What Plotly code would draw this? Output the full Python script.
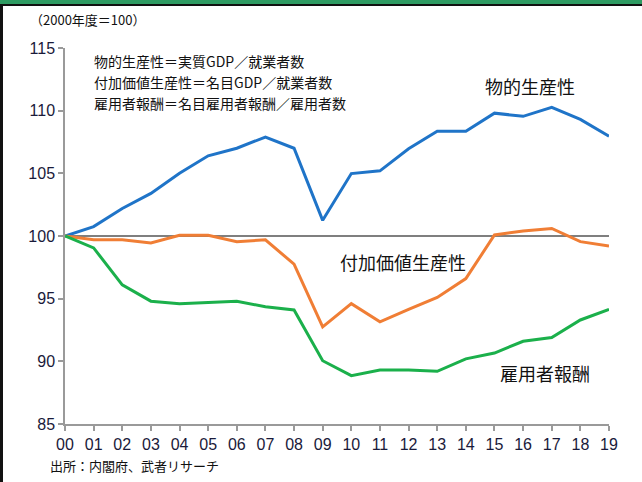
import plotly.graph_objects as go

years = list(range(20))
year_labels = ["00","01","02","03","04","05","06","07","08","09",
               "10","11","12","13","14","15","16","17","18","19"]

physical = [100.0, 100.75, 102.2, 103.4, 105.0, 106.4, 107.0, 107.9, 107.0, 101.25,
            104.98, 105.2, 106.96, 108.36, 108.36, 109.8, 109.55, 110.26, 109.3, 107.96]
value_added = [100.0, 99.7, 99.7, 99.45, 100.05, 100.05, 99.55, 99.7, 97.75, 92.75,
               94.6, 93.15, 94.15, 95.1, 96.6, 100.08, 100.4, 100.6, 99.55, 99.2]
compensation = [100.0, 99.05, 96.1, 94.8, 94.6, 94.7, 94.8, 94.35, 94.1, 90.05,
                88.86, 89.3, 89.3, 89.2, 90.2, 90.66, 91.6, 91.9, 93.3, 94.15]

y_ticks = [85, 90, 95, 100, 105, 110, 115]

W, H = 642, 482
L, R, T, B = 65, 33, 48, 58
pw, ph = W - L - R, H - T - B

def px(x):
    return (x - L) / pw

def py(y):
    return 1 - (y - T) / ph

CJK = "Noto Sans CJK JP"

fig = go.Figure()
fig.add_trace(go.Scatter(x=years, y=physical, mode="lines",
                         line=dict(color="#1F74C8", width=3), name="物的生産性"))
fig.add_trace(go.Scatter(x=years, y=value_added, mode="lines",
                         line=dict(color="#F07E35", width=3), name="付加価値生産性"))
fig.add_trace(go.Scatter(x=years, y=compensation, mode="lines",
                         line=dict(color="#1BB04B", width=3), name="雇用者報酬"))

fig.update_layout(
    width=W, height=H,
    margin=dict(l=L, r=R, t=T, b=B),
    paper_bgcolor="white", plot_bgcolor="white",
    showlegend=False,
    font=dict(family="Liberation Sans, Arial", color="#222"),
)
fig.update_xaxes(range=[0, 19], tickvals=years, ticktext=year_labels,
                 showgrid=False, zeroline=False, showline=True,
                 linecolor="#9A9A9A", linewidth=1.5,
                 ticks="outside", ticklen=5, tickcolor="#9A9A9A", tickwidth=1.5,
                 tickfont=dict(size=16, family="Liberation Sans, Arial", color="#1a1a3a"))
fig.update_yaxes(range=[85, 115], tickvals=y_ticks,
                 showgrid=False, zeroline=False, showline=True,
                 linecolor="#9A9A9A", linewidth=1.5,
                 ticks="outside", ticklen=5, tickcolor="#9A9A9A", tickwidth=1.5,
                 tickfont=dict(size=16, family="Liberation Sans, Arial", color="#1a1a3a"))

# 100 baseline
fig.add_hline(y=100, line=dict(color="#555555", width=1.5), layer="below")

shapes = [
    # green top band
    dict(type="rect", xref="paper", yref="paper", x0=px(0), x1=px(W), y0=py(0), y1=py(4),
         fillcolor="#2E9B62", line=dict(width=0)),
    # black line under band
    dict(type="rect", xref="paper", yref="paper", x0=px(0), x1=px(W), y0=py(4), y1=py(6),
         fillcolor="#111111", line=dict(width=0)),
    # left border
    dict(type="rect", xref="paper", yref="paper", x0=px(0), x1=px(3), y0=py(4), y1=py(H),
         fillcolor="#111111", line=dict(width=0)),
]
for s in shapes:
    fig.add_shape(**s)

def ann(text, x, y, size, xanchor="left"):
    fig.add_annotation(text=text, xref="paper", yref="paper", x=px(x), y=py(y),
                       xanchor=xanchor, yanchor="middle", showarrow=False,
                       font=dict(family=CJK, size=size, color="#111111"))

ann("（2000年度＝100）", 28, 20, 13)
ann("物的生産性＝実質GDP／就業者数", 92, 61, 14)
ann("付加価値生産性＝名目GDP／就業者数", 92, 82, 14)
ann("雇用者報酬＝名目雇用者報酬／雇用者数", 92, 103, 14)
ann("物的生産性", 483, 86, 18)
ann("付加価値生産性", 338, 262, 18)
ann("雇用者報酬", 498, 373, 18)
ann("出所：内閣府、武者リサーチ", 48, 465, 13)

fig.write_html("out.html", config={"displayModeBar": False},
               post_script="document.body.style.margin='0';document.body.style.overflow='hidden';")
